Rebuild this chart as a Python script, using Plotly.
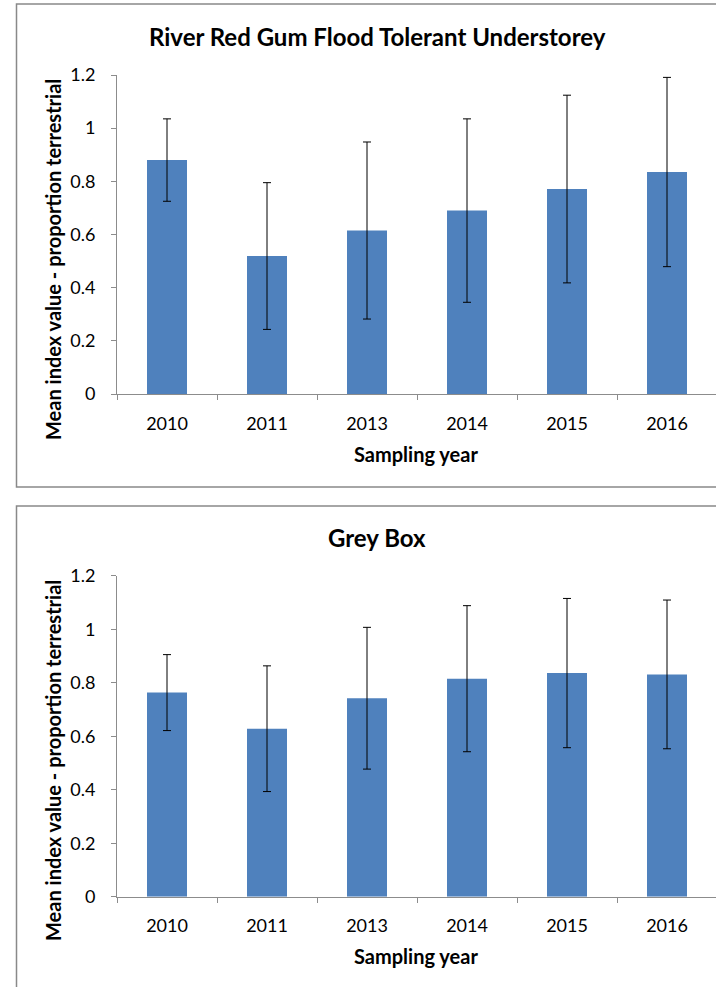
import plotly.graph_objects as go

# Sampling years shared by both vegetation groups
years = ["2010", "2011", "2013", "2014", "2015", "2016"]

# River Red Gum flood tolerant understorey: mean and error half-width
rrg_mean = [0.880, 0.519, 0.615, 0.690, 0.771, 0.835]
rrg_err = [0.155, 0.276, 0.333, 0.345, 0.353, 0.356]

# Grey Box: mean and error half-width
gb_mean = [0.763, 0.628, 0.742, 0.815, 0.836, 0.831]
gb_err = [0.142, 0.235, 0.265, 0.273, 0.279, 0.278]

y_ticks = [0, 0.2, 0.4, 0.6, 0.8, 1.0, 1.2]
y_ticktext = ["0", "0.2", "0.4", "0.6", "0.8", "1", "1.2"]

W, H = 716, 987
FONT = "Lato"
BAR = "#4F81BD"
AXIS = "#8C8C8C"


def px_x(p):
    return p / W


def px_y(p):
    return 1 - p / H


fig = go.Figure()

for i, (mean, err) in enumerate([(rrg_mean, rrg_err), (gb_mean, gb_err)]):
    suffix = "" if i == 0 else str(i + 1)
    fig.add_trace(go.Bar(
        x=years, y=mean,
        xaxis="x" + suffix, yaxis="y" + suffix,
        width=0.4,
        marker=dict(color=BAR, line=dict(width=0)),
        error_y=dict(type="data", array=err, visible=True,
                     color="#000000", thickness=1, width=4),
        showlegend=False,
    ))

# plot-area geometry in pixels: (top of 1.2, baseline 0)
panels = [(75, 394), (575.7, 896.7)]

layout = dict(
    width=W, height=H,
    margin=dict(l=0, r=0, t=0, b=0, autoexpand=False),
    paper_bgcolor="white", plot_bgcolor="white",
    bargap=0.6,
    font=dict(family=FONT, color="#000000"),
)

for i, (top, base) in enumerate(panels):
    suffix = "" if i == 0 else str(i + 1)
    layout["xaxis" + suffix] = dict(
        domain=[px_x(117), 1.0],
        anchor="y" + suffix,
        type="category",
        range=[-0.5, 5.49],
        showline=True, linecolor=AXIS, linewidth=1,
        ticks="outside", tickson="boundaries", ticklen=5, tickcolor=AXIS,
        tickfont=dict(family=FONT, size=18, color="#000000"),
        ticklabelstandoff=13,
        showgrid=False, zeroline=False,
    )
    layout["yaxis" + suffix] = dict(
        domain=[px_y(base), px_y(top)],
        anchor="x" + suffix,
        range=[0, 1.2],
        tickvals=y_ticks, ticktext=y_ticktext,
        showline=True, linecolor=AXIS, linewidth=1,
        ticks="outside", ticklen=5, tickcolor=AXIS,
        tickfont=dict(family=FONT, size=18, color="#000000"),
        ticklabelstandoff=12,
        showgrid=False, zeroline=False,
    )

fig.update_layout(**layout)

titles = ["River Red Gum Flood Tolerant Understorey", "Grey Box"]
title_y = [37, 537]
xtitle_y = [454, 956]
ytitle_y = [260, 761]

for i in range(2):
    fig.add_annotation(text="<b>%s</b>" % titles[i], xref="paper", yref="paper",
                       x=px_x(377), y=px_y(title_y[i]), showarrow=False,
                       xanchor="center", yanchor="middle",
                       font=dict(family=FONT, size=24, color="#000000"))
    fig.add_annotation(text="<b>Sampling year</b>", xref="paper", yref="paper",
                       x=px_x(416), y=px_y(xtitle_y[i]), showarrow=False,
                       xanchor="center", yanchor="middle",
                       font=dict(family=FONT, size=20, color="#000000"))
    fig.add_annotation(text="<b>Mean index value - proportion terrestrial</b>",
                       xref="paper", yref="paper", textangle=-90,
                       x=px_x(53), y=px_y(ytitle_y[i]), showarrow=False,
                       xanchor="center", yanchor="middle",
                       font=dict(family=FONT, size=20, color="#000000"))

# chart frames
fig.add_shape(type="rect", xref="paper", yref="paper",
              x0=px_x(16.5), x1=px_x(730), y0=px_y(487), y1=px_y(4),
              line=dict(color="#898989", width=1.5), fillcolor="rgba(0,0,0,0)")
fig.add_shape(type="rect", xref="paper", yref="paper",
              x0=px_x(16.5), x1=px_x(730), y0=px_y(1000), y1=px_y(506),
              line=dict(color="#898989", width=1.5), fillcolor="rgba(0,0,0,0)")

fig.write_html("out.html")
